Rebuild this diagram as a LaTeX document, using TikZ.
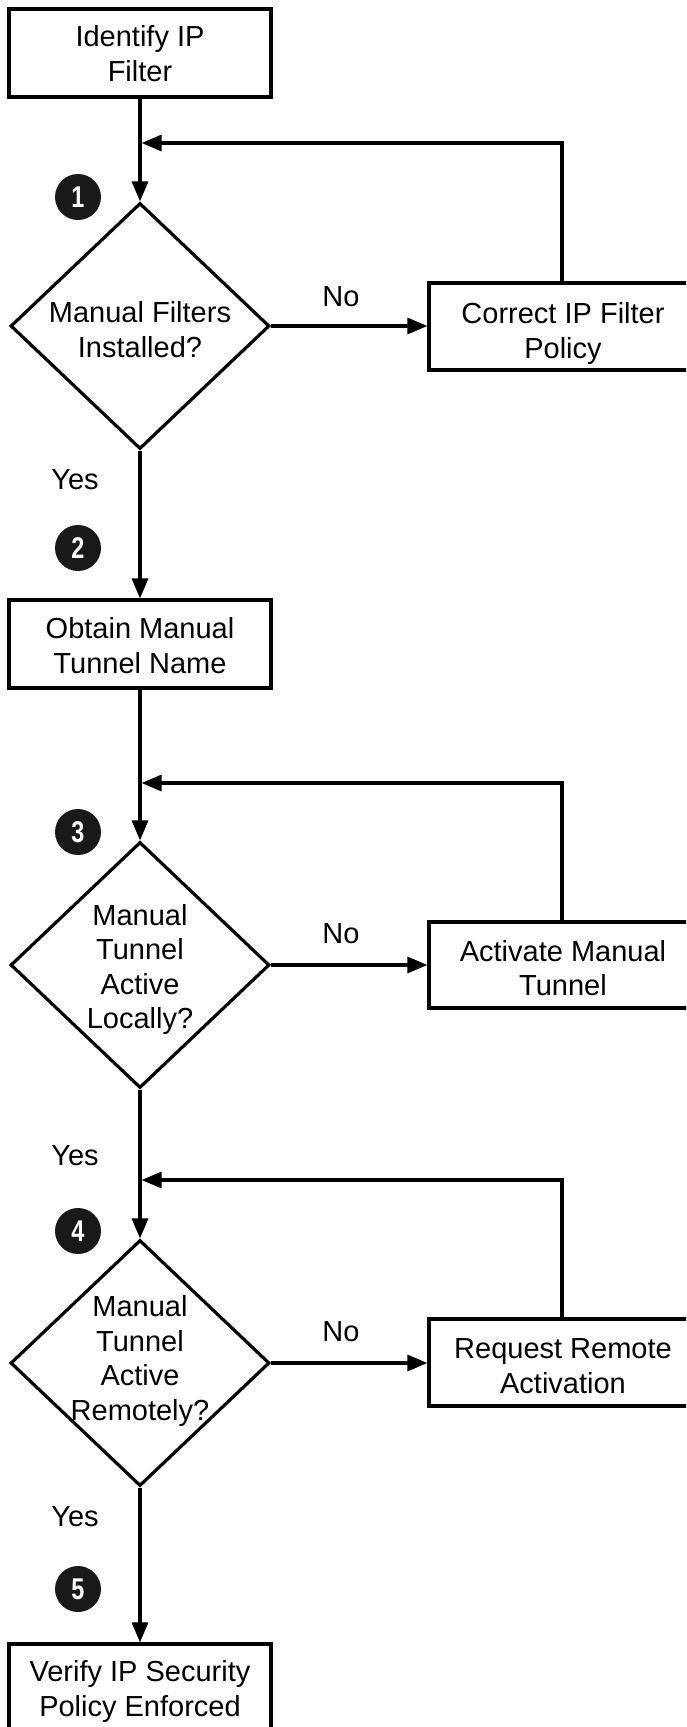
\documentclass[tikz,border=0pt]{standalone}
\usepackage{fontspec}
\setmainfont{Liberation Sans}
\usepackage{graphicx}
\usetikzlibrary{arrows.meta,shapes.geometric}
\newcommand{\badgenum}[1]{\scalebox{0.78}[1]{\bfseries #1}}
\begin{document}
\begin{tikzpicture}[x=1pt,y=-1pt,
  every node/.style={font=\fontsize{29}{34.5}\selectfont, align=center},
  stepbox/.style={draw, line width=3.2pt, minimum width=262pt, minimum height=88pt, inner sep=0pt},
  sidebox/.style={stepbox, minimum width=266pt, minimum height=87pt},
  decision/.style={draw, diamond, line width=3.2pt, minimum width=259pt, minimum height=246pt, inner sep=0pt},
  txt/.style={inner sep=0pt},
  badge/.style={circle, fill=black!90, minimum size=46pt, inner sep=0pt, text=white, font=\fontsize{30}{30}\selectfont},
  arr/.style={line width=3.2pt, -{Triangle[length=20pt,width=16pt]}},
  lbl/.style={inner sep=0pt}]
\useasboundingbox (0,0) rectangle (686,1727);
\clip (0,0) rectangle (686,1727);
\fill[white] (0,0) rectangle (686,1727);

% shapes
\node[stepbox] (b1) at (140,53) {};
\node[decision] (d1) at (140,326) {};
\node[sidebox] (c1) at (562,326.5) {};
\node[stepbox] (b2) at (140,644) {};
\node[decision] (d2) at (140,965) {};
\node[sidebox, minimum height=86pt] (c2) at (562,965) {};
\node[decision] (d3) at (140,1363) {};
\node[sidebox] (c3) at (562,1362.5) {};
\node[stepbox] (b4) at (140,1688) {};

% texts
\node[txt] (b1t) at (140,53.5) {Identify IP\\Filter};
\node[txt] (d1t) at (140,329.7) {Manual Filters\\Installed?};
\node[txt] (c1t) at (563,333.5) {Correct IP Filter\\Policy};
\node[txt] (b2t) at (140,645.7) {Obtain Manual\\Tunnel Name};
\node[txt] (d2t) at (140,969.4) {Manual\\Tunnel\\Active\\Locally?};
\node[txt] (c2t) at (563,968.3) {Activate Manual\\Tunnel};
\node[txt] (d3t) at (140,1361) {Manual\\Tunnel\\Active\\Remotely?};
\node[txt] (c3t) at (563,1366) {Request Remote\\Activation};
\node[txt] (b4t) at (140,1691.3) {Verify IP Security\\Policy Enforced};

% merge points
\coordinate (m1) at (141.6,143);
\coordinate (m2) at (141.6,783);
\coordinate (m3) at (141.6,1180);

% connectors
\draw[arr] (b1.south) -- (d1.north);
\draw[arr] (d1.east) -- (d1.east -| c1.west);
\draw[arr] (c1.north) |- (m1);
\draw[arr] (d1.south) -- (b2.north);
\draw[arr] (b2.south) -- (d2.north);
\draw[arr] (d2.east) -- (d2.east -| c2.west);
\draw[arr] (c2.north) |- (m2);
\draw[arr] (d2.south) -- (d3.north);
\draw[arr] (d3.east) -- (d3.east -| c3.west);
\draw[arr] (c3.north) |- (m3);
\draw[arr] (d3.south) -- (b4.north);

% labels
\node[lbl] (no1) at (341,297) {No};
\node[lbl] (no2) at (341,934) {No};
\node[lbl] (no3) at (341,1332) {No};
\node[lbl] (yes1) at (75,480) {Yes};
\node[lbl] (yes2) at (75,1156) {Yes};
\node[lbl] (yes3) at (75,1517) {Yes};

% step badges
\node[badge] (s1) at (78,197) {\badgenum{1}};
\node[badge] (s2) at (78,548) {\badgenum{2}};
\node[badge] (s3) at (78,832) {\badgenum{3}};
\node[badge] (s4) at (78,1231) {\badgenum{4}};
\node[badge] (s5) at (78,1589) {\badgenum{5}};
\end{tikzpicture}
\end{document}
